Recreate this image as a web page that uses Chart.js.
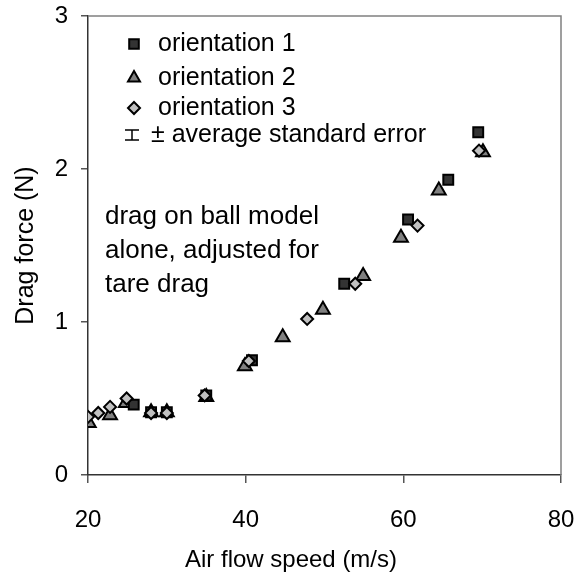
<!DOCTYPE html>
<html>
<head>
<meta charset="utf-8">
<script src="https://cdn.jsdelivr.net/npm/chart.js@4"></script>
<style>
  body { margin: 0; background: #fff; }
  #wrap { width: 577px; height: 580px; }
</style>
</head>
<body>
<div id="wrap"><canvas id="dragChart" width="577" height="580"></canvas></div>
<script>
const speed1 = [25.8, 28, 30, 35, 40.8, 52.5, 60.6, 65.7, 69.5];
const drag1 = [0.46, 0.41, 0.41, 0.52, 0.75, 1.25, 1.67, 1.93, 2.24];

const speed2 = [20.1, 22.8, 24.8, 28, 30, 35, 39.9, 44.7, 49.8, 54.9, 59.7, 64.5, 70.1];
const drag2 = [0.34, 0.39, 0.47, 0.41, 0.41, 0.51, 0.71, 0.90, 1.08, 1.30, 1.55, 1.86, 2.11];

const speed3 = [20, 21.3, 22.8, 24.9, 28, 30, 34.8, 40.4, 47.8, 53.9, 61.8, 69.6];
const drag3 = [0.38, 0.405, 0.445, 0.50, 0.405, 0.405, 0.52, 0.745, 1.02, 1.25, 1.63, 2.12];

const seriesNames = ["orientation 1", "orientation 2", "orientation 3"];
const errorLabel = "\u00b1 average standard error";
const noteLines = ["drag on ball model", "alone, adjusted for", "tare drag"];
const xTitle = "Air flow speed (m/s)";
const yTitle = "Drag force (N)";
const xTicks = [20, 40, 60, 80];
const yTicks = [0, 1, 2, 3];

const FONT = "'Liberation Sans', Arial, sans-serif";
Chart.defaults.font.family = FONT;
Chart.defaults.font.size = 24;
Chart.defaults.color = "#000";

function toPoints(xs, ys) {
  return xs.map((x, i) => ({ x: x, y: ys[i] }));
}

function drawMarker(ctx, style, x, y) {
  ctx.save();
  ctx.lineWidth = 2;
  ctx.strokeStyle = "#000";
  ctx.beginPath();
  if (style === "rect") {
    ctx.fillStyle = "#333333";
    ctx.rect(x - 4.8, y - 4.8, 9.6, 9.6);
  } else if (style === "triangle") {
    ctx.fillStyle = "#808080";
    ctx.moveTo(x, y - 7);
    ctx.lineTo(x + 6, y + 3.5);
    ctx.lineTo(x - 6, y + 3.5);
    ctx.closePath();
  } else {
    ctx.fillStyle = "#c0c0c0";
    ctx.moveTo(x, y - 6);
    ctx.lineTo(x + 6, y);
    ctx.lineTo(x, y + 6);
    ctx.lineTo(x - 6, y);
    ctx.closePath();
  }
  ctx.fill();
  ctx.stroke();
  ctx.restore();
}

const extras = {
  id: "extras",
  afterDraw(chart) {
    const ctx = chart.ctx;
    const a = chart.chartArea;

    // top and right frame
    ctx.save();
    ctx.strokeStyle = "#808080";
    ctx.lineWidth = 1.5;
    ctx.beginPath();
    ctx.moveTo(a.left, a.top);
    ctx.lineTo(a.right, a.top);
    ctx.lineTo(a.right, a.bottom);
    ctx.stroke();
    ctx.restore();

    ctx.save();
    ctx.fillStyle = "#000";
    ctx.textBaseline = "middle";

    // x title sits left of the plot centre in the original
    ctx.font = "24px " + FONT;
    ctx.textAlign = "center";
    ctx.fillText(xTitle, 291, 560);

    // legend
    const styles = ["rect", "triangle", "rectRot"];
    const rows = [44, 78, 108];
    ctx.font = "25px " + FONT;
    ctx.textAlign = "left";
    styles.forEach((s, i) => {
      drawMarker(ctx, s, 134, rows[i]);
      ctx.fillText(seriesNames[i], 158, rows[i]);
    });
    ctx.strokeStyle = "#000";
    ctx.lineWidth = 1.5;
    ctx.beginPath();
    ctx.moveTo(125, 130); ctx.lineTo(139, 130);
    ctx.moveTo(132, 130); ctx.lineTo(132, 140);
    ctx.moveTo(125, 140); ctx.lineTo(139, 140);
    ctx.stroke();
    ctx.fillText(errorLabel, 151, 135);

    // note
    ctx.font = "26px " + FONT;
    noteLines.forEach((line, i) => {
      ctx.fillText(line, 105, 217 + i * 34);
    });
    ctx.restore();
  }
};

const ctx = document.getElementById("dragChart").getContext("2d");
new Chart(ctx, {
  type: "scatter",
  data: {
    datasets: [
      {
        label: seriesNames[1],
        data: toPoints(speed2, drag2),
        pointStyle: "triangle",
        pointRadius: 8,
        backgroundColor: "#808080",
        borderColor: "#000",
        borderWidth: 2,
        order: 3
      },
      {
        label: seriesNames[0],
        data: toPoints(speed1, drag1),
        pointStyle: "rect",
        pointRadius: 7,
        backgroundColor: "#333333",
        borderColor: "#000",
        borderWidth: 2,
        order: 2
      },
      {
        label: seriesNames[2],
        data: toPoints(speed3, drag3),
        pointStyle: "rectRot",
        pointRadius: 6,
        backgroundColor: "#c0c0c0",
        borderColor: "#000",
        borderWidth: 2,
        order: 1
      }
    ]
  },
  options: {
    responsive: false,
    animation: false,
    layout: { padding: { top: 16, right: 16, left: 0, bottom: 0 } },
    plugins: {
      legend: { display: false },
      tooltip: { enabled: false }
    },
    scales: {
      x: {
        type: "linear",
        min: 20,
        max: 80,
        afterBuildTicks: s => { s.ticks = xTicks.map(v => ({ value: v })); },
        afterFit: s => { s.height = 105; s.paddingLeft = 0; s.paddingRight = 0; },
        border: { color: "#333", width: 1.5 },
        grid: { drawOnChartArea: false, tickLength: 8, color: "#555", lineWidth: 1.5 },
        ticks: { padding: 23, color: "#000" },
        title: { display: false }
      },
      y: {
        type: "linear",
        min: 0,
        max: 3,
        afterBuildTicks: s => { s.ticks = yTicks.map(v => ({ value: v })); },
        afterFit: s => { s.width = 88; s.paddingTop = 0; s.paddingBottom = 0; },
        border: { color: "#333", width: 1.5 },
        grid: { drawOnChartArea: false, tickLength: 7, color: "#555", lineWidth: 1.5 },
        ticks: { padding: 13, color: "#000" },
        title: { display: true, text: yTitle, font: { size: 25 }, padding: { top: 11, bottom: 0 } }
      }
    }
  },
  plugins: [extras]
});
</script>
</body>
</html>
